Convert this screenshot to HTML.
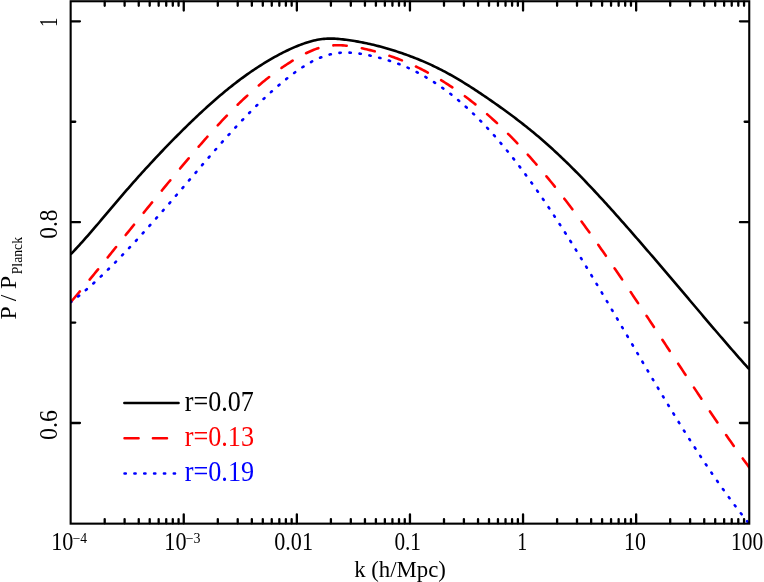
<!DOCTYPE html>
<html><head><meta charset="utf-8"><title>P / P_Planck</title>
<style>html,body{margin:0;padding:0;background:#fff;}body{width:764px;height:582px;overflow:hidden;}svg{display:block;will-change:transform;}text{font-family:"Liberation Serif",serif;}</style></head><body>
<svg width="764" height="582" viewBox="0 0 764 582">
<rect width="764" height="582" fill="#fff"/>
<defs><clipPath id="c"><rect x="70.65" y="1.25" width="678.60" height="523.00"/></clipPath></defs>
<g fill="none" stroke-width="2.60" stroke-linejoin="round" clip-path="url(#c)">
<path d="M70.65,254.35 L72.35,252.58 L74.05,250.80 L75.75,248.99 L77.45,247.16 L79.15,245.31 L80.85,243.44 L82.56,241.56 L84.26,239.65 L85.96,237.73 L87.66,235.80 L89.36,233.86 L91.06,231.90 L92.76,229.93 L94.46,227.95 L96.16,225.96 L97.86,223.97 L99.56,221.97 L101.26,219.96 L102.96,217.95 L104.67,215.93 L106.37,213.92 L108.07,211.90 L109.77,209.89 L111.47,207.87 L113.17,205.86 L114.87,203.85 L116.57,201.85 L118.27,199.85 L119.97,197.86 L121.67,195.87 L123.37,193.90 L125.07,191.93 L126.77,189.97 L128.48,188.02 L130.18,186.08 L131.88,184.15 L133.58,182.22 L135.28,180.30 L136.98,178.39 L138.68,176.49 L140.38,174.60 L142.08,172.71 L143.78,170.84 L145.48,168.97 L147.18,167.11 L148.88,165.26 L150.59,163.41 L152.29,161.58 L153.99,159.75 L155.69,157.93 L157.39,156.12 L159.09,154.31 L160.79,152.52 L162.49,150.73 L164.19,148.96 L165.89,147.18 L167.59,145.42 L169.29,143.67 L170.99,141.92 L172.70,140.19 L174.40,138.46 L176.10,136.74 L177.80,135.02 L179.50,133.32 L181.20,131.62 L182.90,129.93 L184.60,128.26 L186.30,126.58 L188.00,124.92 L189.70,123.27 L191.40,121.63 L193.10,119.99 L194.80,118.37 L196.51,116.76 L198.21,115.16 L199.91,113.56 L201.61,111.98 L203.31,110.41 L205.01,108.85 L206.71,107.30 L208.41,105.77 L210.11,104.24 L211.81,102.73 L213.51,101.23 L215.21,99.74 L216.91,98.27 L218.62,96.81 L220.32,95.36 L222.02,93.92 L223.72,92.50 L225.42,91.09 L227.12,89.70 L228.82,88.32 L230.52,86.96 L232.22,85.61 L233.92,84.27 L235.62,82.95 L237.32,81.65 L239.02,80.36 L240.73,79.08 L242.43,77.83 L244.13,76.59 L245.83,75.36 L247.53,74.15 L249.23,72.96 L250.93,71.78 L252.63,70.62 L254.33,69.47 L256.03,68.34 L257.73,67.23 L259.43,66.13 L261.13,65.05 L262.83,63.99 L264.54,62.94 L266.24,61.91 L267.94,60.89 L269.64,59.89 L271.34,58.90 L273.04,57.93 L274.74,56.98 L276.44,56.04 L278.14,55.12 L279.84,54.22 L281.54,53.33 L283.24,52.46 L284.94,51.61 L286.65,50.77 L288.35,49.96 L290.05,49.16 L291.75,48.39 L293.45,47.63 L295.15,46.90 L296.85,46.19 L298.55,45.51 L300.25,44.85 L301.95,44.21 L303.65,43.60 L305.35,43.02 L307.05,42.47 L308.76,41.95 L310.46,41.45 L312.16,40.99 L313.86,40.57 L315.56,40.18 L317.26,39.83 L318.96,39.52 L320.66,39.25 L322.36,39.03 L324.06,38.85 L325.76,38.71 L327.46,38.62 L329.16,38.58 L330.87,38.57 L332.57,38.61 L334.27,38.67 L335.97,38.77 L337.67,38.89 L339.37,39.04 L341.07,39.21 L342.77,39.40 L344.47,39.60 L346.17,39.82 L347.87,40.05 L349.57,40.28 L351.27,40.53 L352.97,40.80 L354.68,41.07 L356.38,41.35 L358.08,41.65 L359.78,41.96 L361.48,42.28 L363.18,42.61 L364.88,42.95 L366.58,43.30 L368.28,43.67 L369.98,44.05 L371.68,44.44 L373.38,44.84 L375.08,45.25 L376.79,45.68 L378.49,46.12 L380.19,46.56 L381.89,47.02 L383.59,47.49 L385.29,47.97 L386.99,48.46 L388.69,48.97 L390.39,49.48 L392.09,50.00 L393.79,50.53 L395.49,51.08 L397.19,51.63 L398.90,52.19 L400.60,52.76 L402.30,53.35 L404.00,53.94 L405.70,54.54 L407.40,55.15 L409.10,55.78 L410.80,56.41 L412.50,57.05 L414.20,57.71 L415.90,58.38 L417.60,59.06 L419.30,59.75 L421.00,60.45 L422.71,61.17 L424.41,61.90 L426.11,62.64 L427.81,63.39 L429.51,64.16 L431.21,64.94 L432.91,65.74 L434.61,66.55 L436.31,67.38 L438.01,68.22 L439.71,69.07 L441.41,69.94 L443.11,70.82 L444.82,71.72 L446.52,72.64 L448.22,73.56 L449.92,74.50 L451.62,75.46 L453.32,76.43 L455.02,77.41 L456.72,78.40 L458.42,79.40 L460.12,80.42 L461.82,81.45 L463.52,82.49 L465.22,83.54 L466.93,84.60 L468.63,85.67 L470.33,86.75 L472.03,87.84 L473.73,88.94 L475.43,90.05 L477.13,91.17 L478.83,92.29 L480.53,93.43 L482.23,94.57 L483.93,95.72 L485.63,96.87 L487.33,98.03 L489.03,99.20 L490.74,100.38 L492.44,101.56 L494.14,102.75 L495.84,103.94 L497.54,105.14 L499.24,106.35 L500.94,107.57 L502.64,108.79 L504.34,110.02 L506.04,111.26 L507.74,112.50 L509.44,113.76 L511.14,115.02 L512.85,116.29 L514.55,117.57 L516.25,118.87 L517.95,120.17 L519.65,121.48 L521.35,122.80 L523.05,124.13 L524.75,125.47 L526.45,126.82 L528.15,128.18 L529.85,129.56 L531.55,130.94 L533.25,132.34 L534.96,133.75 L536.66,135.17 L538.36,136.60 L540.06,138.05 L541.76,139.51 L543.46,140.98 L545.16,142.47 L546.86,143.97 L548.56,145.48 L550.26,147.01 L551.96,148.55 L553.66,150.10 L555.36,151.67 L557.07,153.25 L558.77,154.85 L560.47,156.46 L562.17,158.08 L563.87,159.71 L565.57,161.36 L567.27,163.02 L568.97,164.69 L570.67,166.37 L572.37,168.06 L574.07,169.77 L575.77,171.48 L577.47,173.21 L579.17,174.95 L580.88,176.69 L582.58,178.45 L584.28,180.22 L585.98,181.99 L587.68,183.78 L589.38,185.57 L591.08,187.37 L592.78,189.18 L594.48,191.00 L596.18,192.83 L597.88,194.66 L599.58,196.51 L601.28,198.36 L602.99,200.21 L604.69,202.08 L606.39,203.95 L608.09,205.82 L609.79,207.71 L611.49,209.59 L613.19,211.49 L614.89,213.39 L616.59,215.29 L618.29,217.20 L619.99,219.12 L621.69,221.03 L623.39,222.96 L625.10,224.88 L626.80,226.82 L628.50,228.75 L630.20,230.69 L631.90,232.63 L633.60,234.58 L635.30,236.53 L637.00,238.48 L638.70,240.44 L640.40,242.40 L642.10,244.37 L643.80,246.33 L645.50,248.30 L647.20,250.28 L648.91,252.25 L650.61,254.23 L652.31,256.21 L654.01,258.19 L655.71,260.18 L657.41,262.17 L659.11,264.16 L660.81,266.15 L662.51,268.14 L664.21,270.14 L665.91,272.13 L667.61,274.13 L669.31,276.13 L671.02,278.13 L672.72,280.14 L674.42,282.14 L676.12,284.15 L677.82,286.15 L679.52,288.16 L681.22,290.17 L682.92,292.18 L684.62,294.19 L686.32,296.20 L688.02,298.21 L689.72,300.22 L691.42,302.23 L693.13,304.24 L694.83,306.25 L696.53,308.26 L698.23,310.27 L699.93,312.28 L701.63,314.28 L703.33,316.29 L705.03,318.30 L706.73,320.30 L708.43,322.30 L710.13,324.30 L711.83,326.30 L713.53,328.29 L715.23,330.28 L716.94,332.27 L718.64,334.26 L720.34,336.24 L722.04,338.22 L723.74,340.19 L725.44,342.17 L727.14,344.13 L728.84,346.10 L730.54,348.06 L732.24,350.01 L733.94,351.96 L735.64,353.90 L737.34,355.84 L739.05,357.78 L740.75,359.70 L742.45,361.63 L744.15,363.54 L745.85,365.45 L747.55,367.35 L749.25,369.25" stroke="#000"/>
<path d="M70.65,302.23 L72.35,300.25 L74.05,298.27 L75.75,296.27 L77.45,294.26 L79.15,292.25 L80.85,290.22 L82.56,288.19 L84.26,286.15 L85.96,284.10 L87.66,282.04 L89.36,279.98 L91.06,277.91 L92.76,275.84 L94.46,273.75 L96.16,271.67 L97.86,269.58 L99.56,267.48 L101.26,265.38 L102.96,263.28 L104.67,261.17 L106.37,259.06 L108.07,256.95 L109.77,254.84 L111.47,252.72 L113.17,250.61 L114.87,248.49 L116.57,246.37 L118.27,244.25 L119.97,242.14 L121.67,240.02 L123.37,237.90 L125.07,235.79 L126.77,233.68 L128.48,231.56 L130.18,229.45 L131.88,227.34 L133.58,225.24 L135.28,223.13 L136.98,221.03 L138.68,218.92 L140.38,216.82 L142.08,214.72 L143.78,212.62 L145.48,210.53 L147.18,208.44 L148.88,206.35 L150.59,204.26 L152.29,202.17 L153.99,200.09 L155.69,198.01 L157.39,195.93 L159.09,193.86 L160.79,191.79 L162.49,189.72 L164.19,187.65 L165.89,185.59 L167.59,183.53 L169.29,181.48 L170.99,179.42 L172.70,177.38 L174.40,175.33 L176.10,173.29 L177.80,171.25 L179.50,169.22 L181.20,167.19 L182.90,165.17 L184.60,163.15 L186.30,161.14 L188.00,159.13 L189.70,157.12 L191.40,155.13 L193.10,153.14 L194.80,151.16 L196.51,149.18 L198.21,147.21 L199.91,145.26 L201.61,143.31 L203.31,141.37 L205.01,139.43 L206.71,137.51 L208.41,135.60 L210.11,133.70 L211.81,131.81 L213.51,129.93 L215.21,128.07 L216.91,126.21 L218.62,124.37 L220.32,122.54 L222.02,120.73 L223.72,118.93 L225.42,117.14 L227.12,115.37 L228.82,113.61 L230.52,111.87 L232.22,110.14 L233.92,108.43 L235.62,106.74 L237.32,105.07 L239.02,103.41 L240.73,101.76 L242.43,100.14 L244.13,98.54 L245.83,96.95 L247.53,95.38 L249.23,93.83 L250.93,92.30 L252.63,90.78 L254.33,89.29 L256.03,87.81 L257.73,86.35 L259.43,84.91 L261.13,83.49 L262.83,82.09 L264.54,80.71 L266.24,79.34 L267.94,78.00 L269.64,76.67 L271.34,75.36 L273.04,74.08 L274.74,72.81 L276.44,71.56 L278.14,70.33 L279.84,69.12 L281.54,67.93 L283.24,66.76 L284.94,65.61 L286.65,64.48 L288.35,63.37 L290.05,62.29 L291.75,61.22 L293.45,60.18 L295.15,59.17 L296.85,58.18 L298.55,57.22 L300.25,56.28 L301.95,55.36 L303.65,54.48 L305.35,53.62 L307.05,52.79 L308.76,51.99 L310.46,51.22 L312.16,50.49 L313.86,49.80 L315.56,49.15 L317.26,48.54 L318.96,47.98 L320.66,47.47 L322.36,47.01 L324.06,46.60 L325.76,46.25 L327.46,45.96 L329.16,45.71 L330.87,45.53 L332.57,45.39 L334.27,45.29 L335.97,45.24 L337.67,45.23 L339.37,45.26 L341.07,45.32 L342.77,45.42 L344.47,45.55 L346.17,45.70 L347.87,45.89 L349.57,46.09 L351.27,46.32 L352.97,46.58 L354.68,46.85 L356.38,47.15 L358.08,47.46 L359.78,47.80 L361.48,48.15 L363.18,48.51 L364.88,48.90 L366.58,49.29 L368.28,49.70 L369.98,50.13 L371.68,50.56 L373.38,51.00 L375.08,51.46 L376.79,51.93 L378.49,52.41 L380.19,52.90 L381.89,53.40 L383.59,53.92 L385.29,54.45 L386.99,54.99 L388.69,55.55 L390.39,56.12 L392.09,56.71 L393.79,57.31 L395.49,57.92 L397.19,58.55 L398.90,59.19 L400.60,59.85 L402.30,60.53 L404.00,61.22 L405.70,61.93 L407.40,62.65 L409.10,63.39 L410.80,64.15 L412.50,64.92 L414.20,65.71 L415.90,66.51 L417.60,67.33 L419.30,68.16 L421.00,69.01 L422.71,69.87 L424.41,70.75 L426.11,71.65 L427.81,72.56 L429.51,73.48 L431.21,74.42 L432.91,75.38 L434.61,76.35 L436.31,77.34 L438.01,78.34 L439.71,79.36 L441.41,80.39 L443.11,81.44 L444.82,82.50 L446.52,83.58 L448.22,84.68 L449.92,85.79 L451.62,86.91 L453.32,88.05 L455.02,89.21 L456.72,90.39 L458.42,91.58 L460.12,92.78 L461.82,94.01 L463.52,95.24 L465.22,96.50 L466.93,97.77 L468.63,99.06 L470.33,100.37 L472.03,101.69 L473.73,103.03 L475.43,104.39 L477.13,105.76 L478.83,107.15 L480.53,108.56 L482.23,109.98 L483.93,111.43 L485.63,112.89 L487.33,114.37 L489.03,115.86 L490.74,117.38 L492.44,118.91 L494.14,120.46 L495.84,122.03 L497.54,123.61 L499.24,125.22 L500.94,126.84 L502.64,128.47 L504.34,130.13 L506.04,131.80 L507.74,133.49 L509.44,135.19 L511.14,136.92 L512.85,138.66 L514.55,140.41 L516.25,142.18 L517.95,143.97 L519.65,145.78 L521.35,147.60 L523.05,149.44 L524.75,151.29 L526.45,153.16 L528.15,155.04 L529.85,156.95 L531.55,158.86 L533.25,160.79 L534.96,162.74 L536.66,164.70 L538.36,166.68 L540.06,168.68 L541.76,170.68 L543.46,172.71 L545.16,174.75 L546.86,176.80 L548.56,178.87 L550.26,180.95 L551.96,183.05 L553.66,185.16 L555.36,187.28 L557.07,189.42 L558.77,191.57 L560.47,193.74 L562.17,195.92 L563.87,198.11 L565.57,200.31 L567.27,202.53 L568.97,204.76 L570.67,207.00 L572.37,209.25 L574.07,211.52 L575.77,213.79 L577.47,216.08 L579.17,218.38 L580.88,220.69 L582.58,223.01 L584.28,225.34 L585.98,227.68 L587.68,230.03 L589.38,232.39 L591.08,234.76 L592.78,237.13 L594.48,239.52 L596.18,241.92 L597.88,244.32 L599.58,246.74 L601.28,249.16 L602.99,251.59 L604.69,254.02 L606.39,256.47 L608.09,258.92 L609.79,261.38 L611.49,263.84 L613.19,266.31 L614.89,268.79 L616.59,271.28 L618.29,273.77 L619.99,276.26 L621.69,278.77 L623.39,281.27 L625.10,283.79 L626.80,286.30 L628.50,288.83 L630.20,291.35 L631.90,293.88 L633.60,296.42 L635.30,298.96 L637.00,301.50 L638.70,304.05 L640.40,306.60 L642.10,309.15 L643.80,311.71 L645.50,314.27 L647.20,316.83 L648.91,319.39 L650.61,321.96 L652.31,324.53 L654.01,327.10 L655.71,329.67 L657.41,332.25 L659.11,334.82 L660.81,337.40 L662.51,339.97 L664.21,342.55 L665.91,345.13 L667.61,347.71 L669.31,350.29 L671.02,352.87 L672.72,355.44 L674.42,358.02 L676.12,360.60 L677.82,363.18 L679.52,365.75 L681.22,368.33 L682.92,370.90 L684.62,373.47 L686.32,376.04 L688.02,378.61 L689.72,381.17 L691.42,383.73 L693.13,386.29 L694.83,388.85 L696.53,391.40 L698.23,393.95 L699.93,396.50 L701.63,399.04 L703.33,401.58 L705.03,404.11 L706.73,406.64 L708.43,409.16 L710.13,411.68 L711.83,414.19 L713.53,416.70 L715.23,419.20 L716.94,421.69 L718.64,424.17 L720.34,426.65 L722.04,429.12 L723.74,431.59 L725.44,434.04 L727.14,436.49 L728.84,438.92 L730.54,441.35 L732.24,443.77 L733.94,446.18 L735.64,448.58 L737.34,450.96 L739.05,453.34 L740.75,455.71 L742.45,458.07 L744.15,460.41 L745.85,462.75 L747.55,465.07 L749.25,467.38" stroke="#f00" stroke-linecap="round" stroke-dasharray="13.3 15.35" stroke-dashoffset="-0.9"/>
<path d="M70.65,302.29 L72.35,301.00 L74.05,299.70 L75.75,298.37 L77.45,297.02 L79.15,295.65 L80.85,294.25 L82.56,292.84 L84.26,291.41 L85.96,289.96 L87.66,288.49 L89.36,287.00 L91.06,285.50 L92.76,283.97 L94.46,282.43 L96.16,280.88 L97.86,279.30 L99.56,277.71 L101.26,276.11 L102.96,274.49 L104.67,272.85 L106.37,271.21 L108.07,269.55 L109.77,267.87 L111.47,266.18 L113.17,264.48 L114.87,262.77 L116.57,261.05 L118.27,259.31 L119.97,257.57 L121.67,255.82 L123.37,254.05 L125.07,252.28 L126.77,250.49 L128.48,248.70 L130.18,246.90 L131.88,245.08 L133.58,243.26 L135.28,241.44 L136.98,239.60 L138.68,237.75 L140.38,235.90 L142.08,234.04 L143.78,232.17 L145.48,230.30 L147.18,228.41 L148.88,226.53 L150.59,224.63 L152.29,222.73 L153.99,220.82 L155.69,218.90 L157.39,216.98 L159.09,215.06 L160.79,213.12 L162.49,211.19 L164.19,209.24 L165.89,207.30 L167.59,205.34 L169.29,203.39 L170.99,201.43 L172.70,199.46 L174.40,197.49 L176.10,195.52 L177.80,193.55 L179.50,191.57 L181.20,189.59 L182.90,187.60 L184.60,185.61 L186.30,183.63 L188.00,181.64 L189.70,179.65 L191.40,177.65 L193.10,175.66 L194.80,173.67 L196.51,171.68 L198.21,169.70 L199.91,167.71 L201.61,165.73 L203.31,163.74 L205.01,161.77 L206.71,159.79 L208.41,157.82 L210.11,155.86 L211.81,153.90 L213.51,151.94 L215.21,149.99 L216.91,148.05 L218.62,146.12 L220.32,144.19 L222.02,142.27 L223.72,140.36 L225.42,138.46 L227.12,136.56 L228.82,134.68 L230.52,132.80 L232.22,130.94 L233.92,129.09 L235.62,127.25 L237.32,125.42 L239.02,123.60 L240.73,121.80 L242.43,120.01 L244.13,118.23 L245.83,116.47 L247.53,114.72 L249.23,112.98 L250.93,111.26 L252.63,109.56 L254.33,107.86 L256.03,106.19 L257.73,104.52 L259.43,102.88 L261.13,101.24 L262.83,99.63 L264.54,98.03 L266.24,96.44 L267.94,94.87 L269.64,93.32 L271.34,91.79 L273.04,90.27 L274.74,88.77 L276.44,87.28 L278.14,85.82 L279.84,84.37 L281.54,82.94 L283.24,81.52 L284.94,80.13 L286.65,78.76 L288.35,77.41 L290.05,76.09 L291.75,74.78 L293.45,73.51 L295.15,72.26 L296.85,71.03 L298.55,69.84 L300.25,68.67 L301.95,67.54 L303.65,66.44 L305.35,65.37 L307.05,64.33 L308.76,63.33 L310.46,62.37 L312.16,61.45 L313.86,60.56 L315.56,59.72 L317.26,58.92 L318.96,58.17 L320.66,57.46 L322.36,56.80 L324.06,56.19 L325.76,55.63 L327.46,55.12 L329.16,54.66 L330.87,54.25 L332.57,53.88 L334.27,53.57 L335.97,53.30 L337.67,53.07 L339.37,52.89 L341.07,52.75 L342.77,52.65 L344.47,52.60 L346.17,52.58 L347.87,52.60 L349.57,52.66 L351.27,52.75 L352.97,52.87 L354.68,53.03 L356.38,53.21 L358.08,53.43 L359.78,53.66 L361.48,53.93 L363.18,54.21 L364.88,54.52 L366.58,54.84 L368.28,55.18 L369.98,55.54 L371.68,55.91 L373.38,56.29 L375.08,56.69 L376.79,57.10 L378.49,57.53 L380.19,57.98 L381.89,58.44 L383.59,58.91 L385.29,59.41 L386.99,59.92 L388.69,60.45 L390.39,61.00 L392.09,61.56 L393.79,62.15 L395.49,62.75 L397.19,63.38 L398.90,64.03 L400.60,64.69 L402.30,65.38 L404.00,66.09 L405.70,66.82 L407.40,67.57 L409.10,68.34 L410.80,69.14 L412.50,69.95 L414.20,70.79 L415.90,71.65 L417.60,72.53 L419.30,73.43 L421.00,74.35 L422.71,75.30 L424.41,76.27 L426.11,77.26 L427.81,78.27 L429.51,79.30 L431.21,80.36 L432.91,81.44 L434.61,82.54 L436.31,83.66 L438.01,84.81 L439.71,85.98 L441.41,87.17 L443.11,88.38 L444.82,89.62 L446.52,90.88 L448.22,92.16 L449.92,93.46 L451.62,94.79 L453.32,96.14 L455.02,97.51 L456.72,98.91 L458.42,100.32 L460.12,101.77 L461.82,103.23 L463.52,104.72 L465.22,106.23 L466.93,107.76 L468.63,109.32 L470.33,110.90 L472.03,112.50 L473.73,114.12 L475.43,115.77 L477.13,117.44 L478.83,119.14 L480.53,120.86 L482.23,122.60 L483.93,124.37 L485.63,126.15 L487.33,127.97 L489.03,129.80 L490.74,131.66 L492.44,133.54 L494.14,135.45 L495.84,137.37 L497.54,139.33 L499.24,141.30 L500.94,143.29 L502.64,145.31 L504.34,147.35 L506.04,149.41 L507.74,151.49 L509.44,153.60 L511.14,155.72 L512.85,157.87 L514.55,160.03 L516.25,162.22 L517.95,164.42 L519.65,166.65 L521.35,168.89 L523.05,171.16 L524.75,173.44 L526.45,175.74 L528.15,178.06 L529.85,180.40 L531.55,182.76 L533.25,185.13 L534.96,187.53 L536.66,189.94 L538.36,192.37 L540.06,194.81 L541.76,197.27 L543.46,199.75 L545.16,202.25 L546.86,204.76 L548.56,207.28 L550.26,209.83 L551.96,212.39 L553.66,214.96 L555.36,217.55 L557.07,220.15 L558.77,222.77 L560.47,225.40 L562.17,228.04 L563.87,230.70 L565.57,233.37 L567.27,236.05 L568.97,238.75 L570.67,241.45 L572.37,244.17 L574.07,246.90 L575.77,249.64 L577.47,252.39 L579.17,255.15 L580.88,257.92 L582.58,260.69 L584.28,263.48 L585.98,266.28 L587.68,269.08 L589.38,271.90 L591.08,274.72 L592.78,277.54 L594.48,280.38 L596.18,283.22 L597.88,286.07 L599.58,288.92 L601.28,291.78 L602.99,294.65 L604.69,297.51 L606.39,300.39 L608.09,303.27 L609.79,306.15 L611.49,309.03 L613.19,311.92 L614.89,314.82 L616.59,317.71 L618.29,320.61 L619.99,323.50 L621.69,326.40 L623.39,329.31 L625.10,332.21 L626.80,335.11 L628.50,338.01 L630.20,340.91 L631.90,343.82 L633.60,346.72 L635.30,349.62 L637.00,352.51 L638.70,355.41 L640.40,358.30 L642.10,361.19 L643.80,364.08 L645.50,366.97 L647.20,369.85 L648.91,372.72 L650.61,375.60 L652.31,378.46 L654.01,381.33 L655.71,384.18 L657.41,387.04 L659.11,389.88 L660.81,392.72 L662.51,395.55 L664.21,398.38 L665.91,401.19 L667.61,404.00 L669.31,406.80 L671.02,409.60 L672.72,412.38 L674.42,415.15 L676.12,417.92 L677.82,420.67 L679.52,423.42 L681.22,426.15 L682.92,428.88 L684.62,431.59 L686.32,434.29 L688.02,436.98 L689.72,439.65 L691.42,442.31 L693.13,444.96 L694.83,447.60 L696.53,450.22 L698.23,452.83 L699.93,455.43 L701.63,458.01 L703.33,460.58 L705.03,463.13 L706.73,465.67 L708.43,468.20 L710.13,470.71 L711.83,473.20 L713.53,475.68 L715.23,478.15 L716.94,480.60 L718.64,483.03 L720.34,485.45 L722.04,487.85 L723.74,490.23 L725.44,492.60 L727.14,494.95 L728.84,497.28 L730.54,499.60 L732.24,501.90 L733.94,504.18 L735.64,506.45 L737.34,508.70 L739.05,510.92 L740.75,513.13 L742.45,515.33 L744.15,517.50 L745.85,519.65 L747.55,521.79 L749.25,523.90" stroke="#00f" stroke-linecap="round" stroke-dasharray="1.3 8.745" stroke-dashoffset="0.6"/>
</g>
<path d="M104.70,523.25v-4.20M104.70,1.65v4.20M124.61,523.25v-4.20M124.61,1.65v4.20M138.74,523.25v-4.20M138.74,1.65v4.20M149.70,523.25v-4.20M149.70,1.65v4.20M158.66,523.25v-4.20M158.66,1.65v4.20M166.23,523.25v-4.20M166.23,1.65v4.20M172.79,523.25v-4.20M172.79,1.65v4.20M178.57,523.25v-4.20M178.57,1.65v4.20M183.75,523.25v-8.90M183.75,1.65v8.90M217.80,523.25v-4.20M217.80,1.65v4.20M237.71,523.25v-4.20M237.71,1.65v4.20M251.84,523.25v-4.20M251.84,1.65v4.20M262.80,523.25v-4.20M262.80,1.65v4.20M271.76,523.25v-4.20M271.76,1.65v4.20M279.33,523.25v-4.20M279.33,1.65v4.20M285.89,523.25v-4.20M285.89,1.65v4.20M291.67,523.25v-4.20M291.67,1.65v4.20M296.85,523.25v-8.90M296.85,1.65v8.90M330.90,523.25v-4.20M330.90,1.65v4.20M350.81,523.25v-4.20M350.81,1.65v4.20M364.94,523.25v-4.20M364.94,1.65v4.20M375.90,523.25v-4.20M375.90,1.65v4.20M384.86,523.25v-4.20M384.86,1.65v4.20M392.43,523.25v-4.20M392.43,1.65v4.20M398.99,523.25v-4.20M398.99,1.65v4.20M404.77,523.25v-4.20M404.77,1.65v4.20M409.95,523.25v-8.90M409.95,1.65v8.90M444.00,523.25v-4.20M444.00,1.65v4.20M463.91,523.25v-4.20M463.91,1.65v4.20M478.04,523.25v-4.20M478.04,1.65v4.20M489.00,523.25v-4.20M489.00,1.65v4.20M497.96,523.25v-4.20M497.96,1.65v4.20M505.53,523.25v-4.20M505.53,1.65v4.20M512.09,523.25v-4.20M512.09,1.65v4.20M517.87,523.25v-4.20M517.87,1.65v4.20M523.05,523.25v-8.90M523.05,1.65v8.90M557.10,523.25v-4.20M557.10,1.65v4.20M577.01,523.25v-4.20M577.01,1.65v4.20M591.14,523.25v-4.20M591.14,1.65v4.20M602.10,523.25v-4.20M602.10,1.65v4.20M611.06,523.25v-4.20M611.06,1.65v4.20M618.63,523.25v-4.20M618.63,1.65v4.20M625.19,523.25v-4.20M625.19,1.65v4.20M630.97,523.25v-4.20M630.97,1.65v4.20M636.15,523.25v-8.90M636.15,1.65v8.90M670.20,523.25v-4.20M670.20,1.65v4.20M690.11,523.25v-4.20M690.11,1.65v4.20M704.24,523.25v-4.20M704.24,1.65v4.20M715.20,523.25v-4.20M715.20,1.65v4.20M724.16,523.25v-4.20M724.16,1.65v4.20M731.73,523.25v-4.20M731.73,1.65v4.20M738.29,523.25v-4.20M738.29,1.65v4.20M744.07,523.25v-4.20M744.07,1.65v4.20M71.05,423.02h8.90M748.85,423.02h-8.90M71.05,322.59h4.20M748.85,322.59h-4.20M71.05,222.16h8.90M748.85,222.16h-8.90M71.05,121.73h4.20M748.85,121.73h-4.20M71.05,21.30h8.90M748.85,21.30h-8.90" stroke="#000" stroke-width="2.3" stroke-linecap="round" fill="none"/>
<rect x="70.65" y="1.25" width="678.60" height="522.40" fill="none" stroke="#000" stroke-width="2.1"/>
<g fill="#000">
<text font-size="24.5" transform="translate(274.26,549.75) scale(0.9044,1)">0.01</text>
<text font-size="24.5" transform="translate(394.39,549.75) scale(0.8682,1)">0.1</text>
<text font-size="24.5" transform="translate(517.25,549.75) scale(0.8116,1)">1</text>
<text font-size="24.5" transform="translate(624.07,549.75) scale(0.8966,1)">10</text>
<text font-size="24.5" transform="translate(731.11,549.75) scale(0.8763,1)">100</text>
<text font-size="24.5" transform="translate(51.20,549.75) scale(0.9060,1)">10</text>
<text font-size="14.0" transform="translate(72.67,542.6) scale(0.9729,1)">−4</text>
<text font-size="24.5" transform="translate(164.30,549.75) scale(0.9060,1)">10</text>
<text font-size="14.0" transform="translate(185.76,542.6) scale(0.9962,1)">−3</text>
<text font-size="23.2" transform="translate(354.17,576.6) scale(0.9819,1)">k (h/Mpc)</text>
<text font-size="24.2" transform="translate(56.8,440.11) rotate(-90) scale(0.9927,1)">0.6</text>
<text font-size="24.2" transform="translate(56.8,238.69) rotate(-90) scale(0.9610,1)">0.8</text>
<text font-size="24.2" transform="translate(56.8,26.97) rotate(-90) scale(0.7864,1)">1</text>
<text font-size="23.2" transform="translate(16.2,319.38) rotate(-90) scale(1.0129,1)">P / P</text>
<text font-size="14.0" transform="translate(22.0,274.30) rotate(-90) scale(0.9814,1)">Planck</text>
</g>
<g stroke-width="2.1" fill="none">
<path d="M124.3,403.0H178.6" stroke="#000" stroke-width="2.4" stroke-linecap="round"/>
<path d="M124.5,438.35H179" stroke="#f00" stroke-width="2.5" stroke-linecap="round" stroke-dasharray="14.1 14.3"/>
<path d="M124.5,473.5H179" stroke="#00f" stroke-width="2.5" stroke-linecap="round" stroke-dasharray="1.3 8.55"/>
</g>
<text font-size="28.5" fill="#000" transform="translate(184.73,411.1) scale(0.9156,1)">r=0.07</text>
<text font-size="28.5" fill="#f00" transform="translate(184.73,446.2) scale(0.9193,1)">r=0.13</text>
<text font-size="28.5" fill="#00f" transform="translate(184.73,481.3) scale(0.9200,1)">r=0.19</text>
</svg></body></html>
